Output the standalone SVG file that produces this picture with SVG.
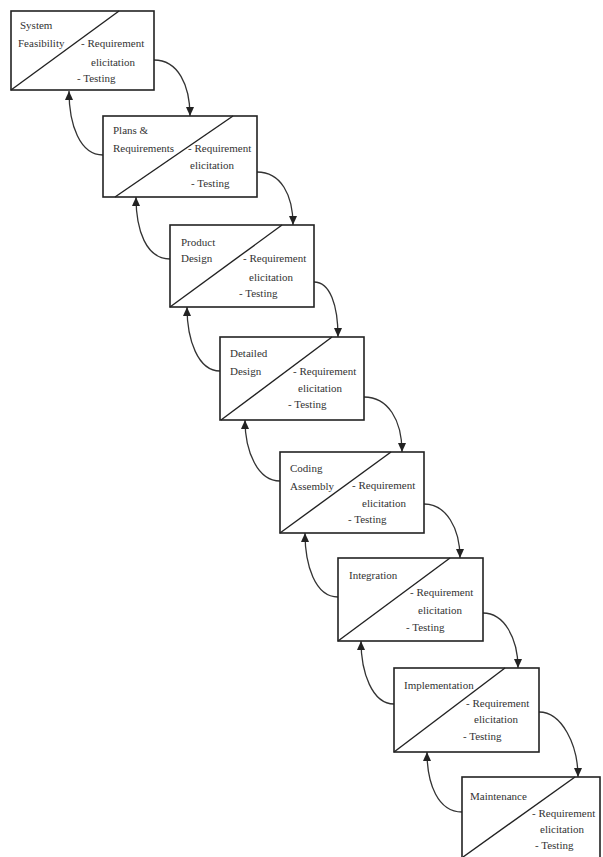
<svg xmlns="http://www.w3.org/2000/svg" width="603" height="857" viewBox="0 0 603 857">
<defs>
<marker id="ah" markerUnits="userSpaceOnUse" markerWidth="9" markerHeight="8" refX="9" refY="4" orient="auto">
<path d="M0,0 L9,4 L0,8 z" fill="#222"/>
</marker>
<style>
.box{fill:#fff;stroke:#222;stroke-width:1.6}
.diag{stroke:#222;stroke-width:1.4;fill:none}
.con{fill:none;stroke:#333;stroke-width:1.3;marker-end:url(#ah)}
text{font-family:"Liberation Serif","Times New Roman",serif;font-size:11px;fill:#333}
</style>
</defs>
<rect width="603" height="857" fill="#fff"/>
<g id="connectors">
<path class="con" d="M154,60 C178,60 190,85 190,116"/>
<path class="con" d="M257,172 C281,172 293,195 293,225"/>
<path class="con" d="M314,282 C330,282 338,305 338,337"/>
<path class="con" d="M364,397 C388,397 402,420 402,452"/>
<path class="con" d="M424,504 C446,504 460,528 460,558"/>
<path class="con" d="M483,613 C504,613 518,638 518,668"/>
<path class="con" d="M539,712 C562,712 578,745 578,777"/>
<path class="con" d="M103,155 C80,155 69,125 69,91"/>
<path class="con" d="M170,259 C146,259 136,230 136,197"/>
<path class="con" d="M220,371 C198,371 187,340 187,307"/>
<path class="con" d="M280,481 C258,481 245,452 245,420"/>
<path class="con" d="M338,597 C315,597 305,565 305,533"/>
<path class="con" d="M394,704 C372,704 361,672 361,641"/>
<path class="con" d="M462,812 C438,812 427,784 427,752"/>
</g>
<g id="node1">
<rect class="box" x="11" y="11" width="143" height="79"/>
<line class="diag" x1="11" y1="90" x2="119" y2="11"/>
<text x="20" y="29">System</text>
<text x="18" y="47">Feasibility</text>
<text x="81" y="47">- Requirement</text>
<text x="91" y="66">elicitation</text>
<text x="77" y="82">- Testing</text>
</g>
<g id="node2">
<rect class="box" x="103" y="116" width="154" height="81"/>
<line class="diag" x1="115" y1="197" x2="233" y2="116"/>
<text x="113" y="134">Plans &amp;</text>
<text x="113" y="152">Requirements</text>
<text x="188" y="152">- Requirement</text>
<text x="190" y="169">elicitation</text>
<text x="191" y="187">- Testing</text>
</g>
<g id="node3">
<rect class="box" x="170" y="225" width="144" height="82"/>
<line class="diag" x1="170" y1="307" x2="282" y2="225"/>
<text x="181" y="246">Product</text>
<text x="181" y="262">Design</text>
<text x="243" y="262">- Requirement</text>
<text x="249" y="281">elicitation</text>
<text x="239" y="297">- Testing</text>
</g>
<g id="node4">
<rect class="box" x="220" y="337" width="144" height="83"/>
<line class="diag" x1="221" y1="420" x2="332" y2="337"/>
<text x="230" y="357">Detailed</text>
<text x="230" y="375">Design</text>
<text x="293" y="375">- Requirement</text>
<text x="298" y="392">elicitation</text>
<text x="288" y="408">- Testing</text>
</g>
<g id="node5">
<rect class="box" x="280" y="452" width="144" height="81"/>
<line class="diag" x1="280" y1="533" x2="391" y2="452"/>
<text x="290" y="472">Coding</text>
<text x="290" y="490">Assembly</text>
<text x="352" y="489">- Requirement</text>
<text x="362" y="507">elicitation</text>
<text x="348" y="523">- Testing</text>
</g>
<g id="node6">
<rect class="box" x="338" y="558" width="145" height="83"/>
<line class="diag" x1="338" y1="641" x2="450" y2="558"/>
<text x="349" y="579">Integration</text>
<text x="410" y="596">- Requirement</text>
<text x="418" y="614">elicitation</text>
<text x="406" y="631">- Testing</text>
</g>
<g id="node7">
<rect class="box" x="394" y="668" width="145" height="84"/>
<line class="diag" x1="394" y1="752" x2="505" y2="668"/>
<text x="404" y="689">Implementation</text>
<text x="466" y="707">- Requirement</text>
<text x="474" y="723">elicitation</text>
<text x="463" y="740">- Testing</text>
</g>
<g id="node8">
<rect class="box" x="462" y="777" width="138" height="84"/>
<line class="diag" x1="463" y1="857" x2="575" y2="777"/>
<text x="470" y="800">Maintenance</text>
<text x="532" y="817">- Requirement</text>
<text x="540" y="833">elicitation</text>
<text x="535" y="849">- Testing</text>
</g>
</svg>
